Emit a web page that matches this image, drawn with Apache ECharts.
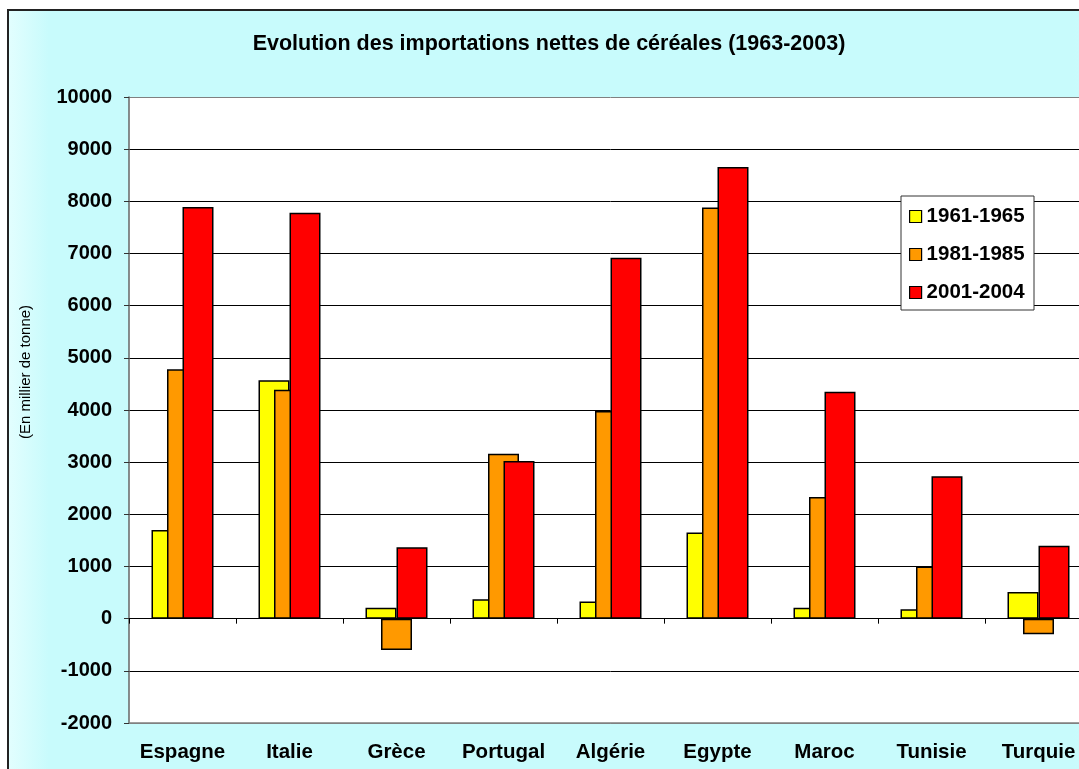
<!DOCTYPE html>
<html>
<head>
<meta charset="utf-8">
<script src="https://cdn.jsdelivr.net/npm/echarts@6/dist/echarts.min.js"></script>
<style>
  html, body { margin: 0; padding: 0; overflow: hidden; background: #fff; }
  #frame {
    position: absolute; left: 7px; top: 9px; width: 1120px; height: 800px;
    border: 2px solid #222;
    background: linear-gradient(to right, #e2fefe 0px, #c8fbfc 40px, #c8fbfc 95%, #d6fdfd 100%);
  }
  #chart { position: absolute; left: 0; top: 0; width: 1105px; height: 790px; }
</style>
</head>
<body>
<div id="frame"></div>
<div id="chart"></div>
<script>
// Importations nettes de céréales (en millier de tonnes)
const pays = ['Espagne', 'Italie', 'Grèce', 'Portugal', 'Algérie', 'Egypte', 'Maroc', 'Tunisie', 'Turquie'];
const periodes = ['1961-1965', '1981-1985', '2001-2004'];
const p1961 = [1700, 4570, 210, 370, 330, 1650, 210, 180, 510];
const p1981 = [4780, 4390, -600, 3160, 3980, 7880, 2330, 1000, -300];
const p2001 = [7890, 7780, 1370, 3020, 6920, 8660, 4350, 2730, 1400];
const couleurs = ['#FFFF00', '#FF9900', '#FF0000'];

const FONT = "'Liberation Sans', Arial, sans-serif";

const chart = echarts.init(document.getElementById('chart'));

// lignes de grille : bords haut / bas gris, le reste noir
const gridColors = [];
for (let i = 0; i <= 12; i++) gridColors.push(i === 0 || i === 12 ? '#808080' : '#000');

function barSeries(name, data, idx) {
  return {
    name: name,
    type: 'bar',
    data: data,
    barWidth: 31,
    barGap: '-50%',
    itemStyle: { color: couleurs[idx], borderColor: '#000', borderWidth: 1.5 }
  };
}

chart.setOption({
  animation: false,
  textStyle: { fontFamily: FONT },
  title: {
    text: 'Evolution des importations nettes de céréales (1963-2003)',
    left: 549, textAlign: 'center', top: 33, padding: 0,
    textStyle: { fontSize: 21.5, fontWeight: 'bold', color: '#000', fontFamily: FONT }
  },
  grid: {
    left: 129, top: 97, width: 963, height: 626,
    show: true, backgroundColor: '#fff', borderWidth: 0
  },
  legend: {
    data: periodes,
    orient: 'vertical',
    left: 909, top: 206,
    padding: 0,
    itemGap: 17,
    itemWidth: 12, itemHeight: 12,
    itemTextGap: 8,
    icon: 'rect',
    selectedMode: false,
    itemStyle: { borderColor: '#000', borderWidth: 1.2 },
    textStyle: { fontSize: 20.5, fontWeight: 'bold', color: '#000', lineHeight: 20, fontFamily: FONT }
  },
  graphic: [
    {
      type: 'rect', z: 3,
      shape: { x: 901, y: 196, width: 133, height: 114 },
      style: { fill: '#fff', stroke: '#333', lineWidth: 1 }
    },
    {
      type: 'text', z: 3,
      x: 26, y: 372, rotation: Math.PI / 2,
      style: {
        text: '(En millier de tonne)', fill: '#000',
        font: "15px 'Liberation Sans', Arial, sans-serif",
        align: 'center', verticalAlign: 'middle'
      }
    }
  ],
  xAxis: [
    {
      type: 'category', data: pays, position: 'bottom',
      axisLine: { onZero: false, lineStyle: { color: '#808080', width: 1.5 } },
      axisTick: { show: false },
      axisLabel: { interval: 0, margin: 19, fontSize: 20.5, fontWeight: 'bold', color: '#000', fontFamily: FONT }
    },
    {
      type: 'category', data: pays, position: 'top',
      axisLine: { onZero: true, lineStyle: { color: '#000', width: 1 } },
      axisTick: { show: true, inside: true, length: 5, lineStyle: { color: '#000' } },
      axisLabel: { show: false }
    }
  ],
  yAxis: {
    type: 'value', min: -2000, max: 10000, interval: 1000,
    axisLine: { show: true, lineStyle: { color: '#666', width: 1.5 } },
    axisTick: { show: true, length: 5, lineStyle: { color: '#333' } },
    axisLabel: {
      margin: 17, fontSize: 20, fontWeight: 'bold', color: '#000', fontFamily: FONT,
      formatter: function (v) { return String(v); }
    },
    splitLine: { show: true, lineStyle: { color: gridColors, width: 1 } }
  },
  series: [
    barSeries(periodes[0], p1961, 0),
    barSeries(periodes[1], p1981, 1),
    barSeries(periodes[2], p2001, 2)
  ]
});
</script>
</body>
</html>
